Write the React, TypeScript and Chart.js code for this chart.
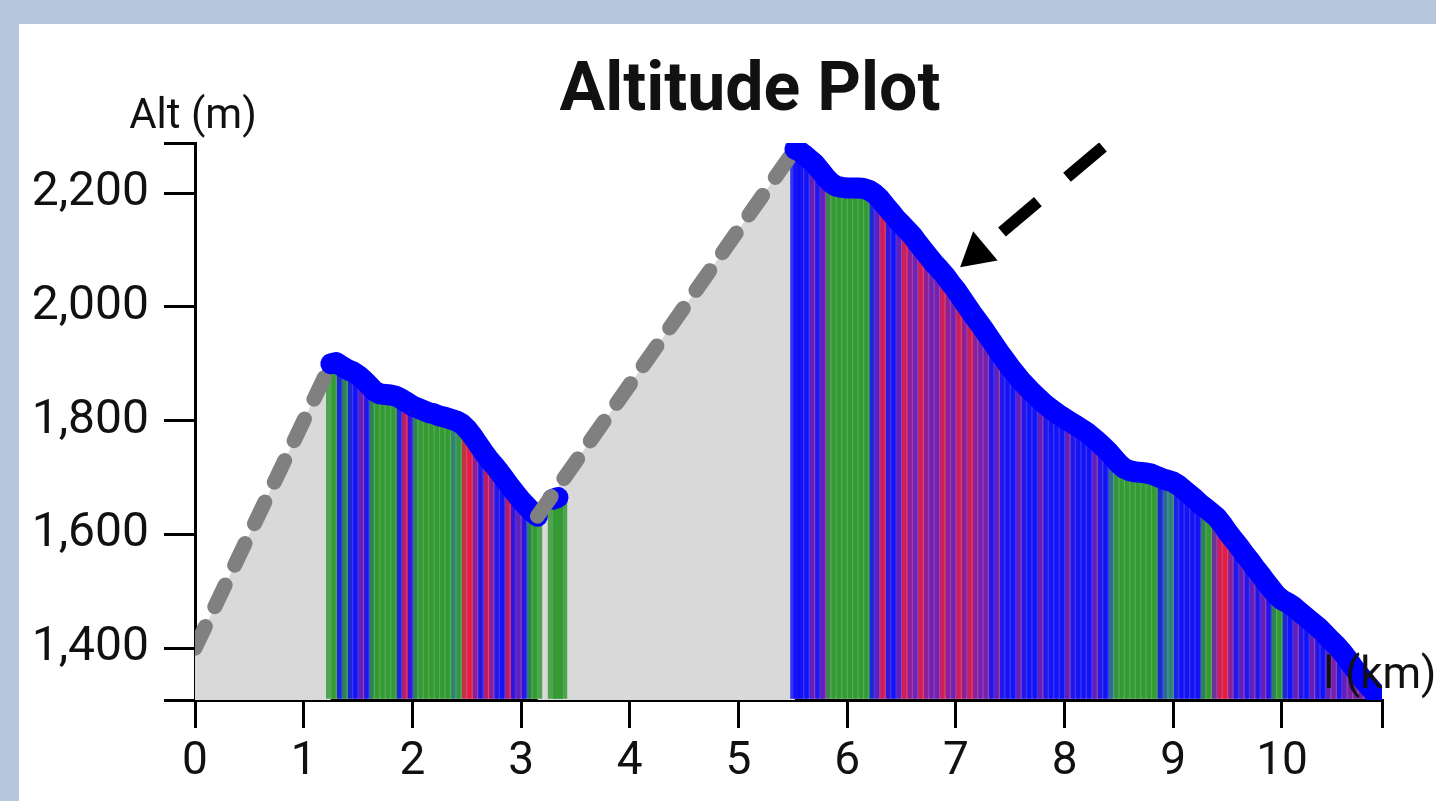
import React, { useEffect, useRef } from 'react';
import { Chart, registerables } from 'chart.js';

Chart.register(...registerables);

// ---------- texts ----------
const TITLE = 'Altitude Plot';
const Y_LABEL = 'Alt (m)';
const X_LABEL = 'l (km)';

// ---------- axes ----------
const X_MIN = 0;
const X_MAX = 10.92;
const Y_MIN = 1309;
const Y_MAX = 2288;
const xTickValues = [0, 1, 2, 3, 4, 5, 6, 7, 8, 9, 10, 10.92];
const xTickLabels = ['0', '1', '2', '3', '4', '5', '6', '7', '8', '9', '10', ''];
const yTickValues = [1309, 1400, 1600, 1800, 2000, 2200, 2288];
const yTickLabels = ['', '1,400', '1,600', '1,800', '2,000', '2,200', ''];

// ---------- gray connector segments (no recorded track) ----------
const gapAKm = [0, 1.25];
const gapAAlt = [1400, 1900];
const gapBKm = [3.15, 5.52];
const gapBAlt = [1632, 2277];

// ---------- recorded track, segment 1 ----------
const seg1Km = [
  1.25, 1.3, 1.35, 1.4, 1.45, 1.5, 1.55, 1.6, 1.65, 1.7, 1.75, 1.8, 1.85, 1.9, 1.95, 2.0,
  2.05, 2.1, 2.15, 2.2, 2.25, 2.3, 2.35, 2.4, 2.45, 2.5, 2.55, 2.6, 2.65, 2.7, 2.75, 2.8,
  2.85, 2.9, 2.95, 3.0, 3.05, 3.1, 3.15,
];
const seg1Alt = [
  1900, 1902, 1896, 1890, 1886, 1880, 1872, 1862, 1852, 1847, 1846, 1845, 1843, 1838, 1832, 1826,
  1822, 1818, 1814, 1812, 1808, 1806, 1803, 1800, 1795, 1786, 1774, 1760, 1746, 1733, 1722, 1710,
  1697, 1684, 1672, 1660, 1650, 1640, 1632,
];
const seg1Kind = 'GGBGBBPBGGGGGBRBGGGGGGGTGRRPBRPBBRBPBGG';

// ---------- segment 2 (short blip) ----------
const seg2Km = [3.29, 3.34, 3.38];
const seg2Alt = [1662, 1665, 1668];
const seg2Kind = 'GGG';

// ---------- segment 3 ----------
const seg3Km = [
  5.52, 5.55, 5.6, 5.65, 5.7, 5.75, 5.8, 5.85, 5.9, 5.95, 6.0, 6.05, 6.1, 6.15, 6.2, 6.25,
  6.3, 6.35, 6.4, 6.45, 6.5, 6.55, 6.6, 6.65, 6.7, 6.75, 6.8, 6.85, 6.9, 6.95, 7.0, 7.05,
  7.1, 7.15, 7.2, 7.25, 7.3, 7.35, 7.4, 7.45, 7.5, 7.55, 7.6, 7.65, 7.7, 7.75, 7.8, 7.85,
  7.9, 7.95, 8.0, 8.05, 8.1, 8.15, 8.2, 8.25, 8.3, 8.35, 8.4, 8.45, 8.5, 8.55, 8.6, 8.65,
  8.7, 8.75, 8.8, 8.85, 8.9, 8.95, 9.0, 9.05, 9.1, 9.15, 9.2, 9.25, 9.3, 9.35, 9.4, 9.45,
  9.5, 9.55, 9.6, 9.65, 9.7, 9.75, 9.8, 9.85, 9.9, 9.95, 10.0, 10.05, 10.1, 10.15, 10.2, 10.25,
  10.3, 10.35, 10.4, 10.45, 10.5, 10.55, 10.6, 10.65, 10.7, 10.75, 10.8, 10.85, 10.9, 10.92,
];
const seg3Alt = [
  2277, 2275, 2268, 2260, 2252, 2240, 2228, 2218, 2212, 2210, 2209, 2209, 2209, 2208, 2205, 2199,
  2190, 2178, 2167, 2155, 2145, 2135, 2125, 2112, 2100, 2088, 2076, 2066, 2055, 2042, 2030, 2016,
  2002, 1988, 1975, 1962, 1948, 1934, 1920, 1907, 1894, 1882, 1870, 1860, 1850, 1841, 1832, 1824,
  1817, 1810, 1804, 1798, 1792, 1786, 1780, 1772, 1764, 1755, 1746, 1735, 1724, 1716, 1712, 1710,
  1709, 1708, 1706, 1702, 1698, 1695, 1692, 1686, 1678, 1670, 1662, 1653, 1646, 1638, 1630, 1618,
  1604, 1592, 1580, 1567, 1555, 1542, 1530, 1517, 1505, 1493, 1485, 1480, 1474, 1466, 1458, 1450,
  1442, 1434, 1424, 1414, 1405, 1394, 1382, 1368, 1356, 1344, 1333, 1322, 1315, 1313,
];
const seg3Kind =
  'BBBBPBP' + 'GGGGGGGG' + 'BPRBB' + 'PRPPRPPPRP' + 'PRPRPPPBPB' + 'BBPBBBPBBB' +
  'BPBBBBPBBT' + 'GGGGGGGGBT' + 'TBBBBBGGPR' + 'RPBPBPBPBG' + 'GBBPBBPBBP' + 'PBPPPPPPPP';

// ---------- arrow annotation (data units) ----------
const arrowKm = [8.353, 7.277];
const arrowAlt = [2281, 2108];
const arrowHeadKm = [7.194];
const arrowHeadAlt = [2094.6];

// ---------- styles ----------
const KIND_COLORS: Record<string, string> = {
  G: 'rgba(44,150,44,0.8)',
  B: 'rgba(10,10,245,0.8)',
  R: 'rgba(222,20,62,0.8)',
  P: 'rgba(112,24,168,0.8)',
  T: 'rgba(40,122,118,0.8)',
};
const FONT = 'Roboto, "Open Sans", sans-serif';

const pts = (km: number[], alt: number[]) => km.map((x, i) => ({ x, y: alt[i] }));

const textPlugin = {
  id: 'altitudeTexts',
  afterDraw(chart: any) {
    const { ctx, chartArea } = chart;
    ctx.save();
    ctx.fillStyle = '#111';
    ctx.textAlign = 'center';
    ctx.textBaseline = 'alphabetic';
    ctx.font = `bold 68px ${FONT}`;
    ctx.fillText(TITLE, 750, 110);
    ctx.font = `42px ${FONT}`;
    ctx.fillText(Y_LABEL, chartArea.left - 2, chartArea.top - 15);
    ctx.font = `44px ${FONT}`;
    ctx.fillText(X_LABEL, chartArea.right - 2, chartArea.bottom - 12);
    ctx.restore();
  },
};

export default function App() {
  const ref = useRef<HTMLCanvasElement | null>(null);

  useEffect(() => {
    if (!ref.current) return;
    const barData = [...pts(seg1Km, seg1Alt), ...pts(seg2Km, seg2Alt), ...pts(seg3Km, seg3Alt)];
    const barColors = (seg1Kind + seg2Kind + seg3Kind).split('').map((k) => KIND_COLORS[k]);

    const blueLine = (data: any[], order: number) => ({
      type: 'line' as const,
      data,
      borderColor: '#0000ff',
      borderWidth: 21,
      borderCapStyle: 'round' as const,
      borderJoinStyle: 'round' as const,
      pointRadius: 0,
      fill: false,
      tension: 0,
      order,
    });
    const grayLine = (data: any[], order: number) => ({
      type: 'line' as const,
      data,
      borderColor: '#808080',
      backgroundColor: '#d9d9d9',
      borderWidth: 15,
      borderDash: [24, 22],
      borderCapStyle: 'round' as const,
      pointRadius: 0,
      fill: 'start',
      tension: 0,
      order,
    });

    const chart = new Chart(ref.current, {
      type: 'line',
      data: {
        datasets: [
          {
            type: 'bar',
            data: barData,
            backgroundColor: barColors,
            borderWidth: 0,
            barThickness: 9,
            base: Y_MIN,
            order: 10,
          } as any,
          grayLine(pts(gapAKm, gapAAlt), 9),
          blueLine(pts(seg1Km, seg1Alt), 8),
          blueLine(pts(seg2Km.slice(0, 2), seg2Alt.slice(0, 2)), 7),
          grayLine(pts(gapBKm, gapBAlt), 6),
          blueLine(pts(seg3Km, seg3Alt), 5),
          {
            type: 'line',
            data: pts(arrowKm, arrowAlt),
            borderColor: '#000',
            borderWidth: 12,
            borderDash: [47, 38],
            borderCapStyle: 'butt',
            pointRadius: 0,
            fill: false,
            order: 4,
          } as any,
          {
            type: 'line',
            data: pts(arrowHeadKm, arrowHeadAlt),
            showLine: false,
            pointStyle: 'triangle',
            pointRotation: 230,
            pointRadius: 22,
            pointBackgroundColor: '#000',
            pointBorderWidth: 0,
            order: 3,
          } as any,
        ],
      },
      options: {
        responsive: false,
        animation: false,
        events: [],
        layout: { padding: { top: 143, right: 54, left: 0, bottom: 0 } },
        plugins: {
          legend: { display: false },
          title: { display: false },
          tooltip: { enabled: false },
          filler: { drawTime: 'beforeDatasetsDraw' },
        } as any,
        scales: {
          x: {
            type: 'linear',
            min: X_MIN,
            max: X_MAX,
            offset: false,
            afterBuildTicks: (s: any) => {
              s.ticks = xTickValues.map((v) => ({ value: v }));
            },
            afterFit: (s: any) => {
              s.height = 101;
            },
            ticks: {
              autoSkip: false,
              maxRotation: 0,
              callback: (_v: any, i: number) => xTickLabels[i],
              font: { family: FONT, size: 46 },
              color: '#111',
              padding: 7,
            },
            grid: {
              offset: false,
              drawOnChartArea: false,
              drawTicks: true,
              tickLength: 28,
              lineWidth: 3,
              tickWidth: 3,
              color: '#000',
            },
            border: { display: true, color: '#000', width: 3 },
          },
          y: {
            type: 'linear',
            min: Y_MIN,
            max: Y_MAX,
            beginAtZero: false,
            afterBuildTicks: (s: any) => {
              s.ticks = yTickValues.map((v) => ({ value: v }));
            },
            afterFit: (s: any) => {
              s.width = 195;
            },
            ticks: {
              autoSkip: false,
              callback: (_v: any, i: number) => yTickLabels[i],
              font: { family: FONT, size: 48 },
              color: '#111',
              padding: 15,
            },
            grid: {
              drawOnChartArea: false,
              drawTicks: true,
              tickLength: 31,
              lineWidth: 3,
              tickWidth: 3,
              color: '#000',
            },
            border: { display: true, color: '#000', width: 3 },
          },
        },
      } as any,
      plugins: [textPlugin],
    });
    return () => chart.destroy();
  }, []);

  return (
    <div
      style={{
        position: 'fixed',
        left: 0,
        top: 0,
        width: 1436,
        height: 801,
        background: '#b6c6dc',
        overflow: 'hidden',
      }}
    >
      <div style={{ position: 'absolute', left: 19, top: 24, right: 0, bottom: 0, background: '#ffffff' }} />
      <canvas
        ref={ref}
        width={1436}
        height={801}
        style={{ position: 'absolute', left: 0, top: 0, width: 1436, height: 801 }}
      />
    </div>
  );
}
